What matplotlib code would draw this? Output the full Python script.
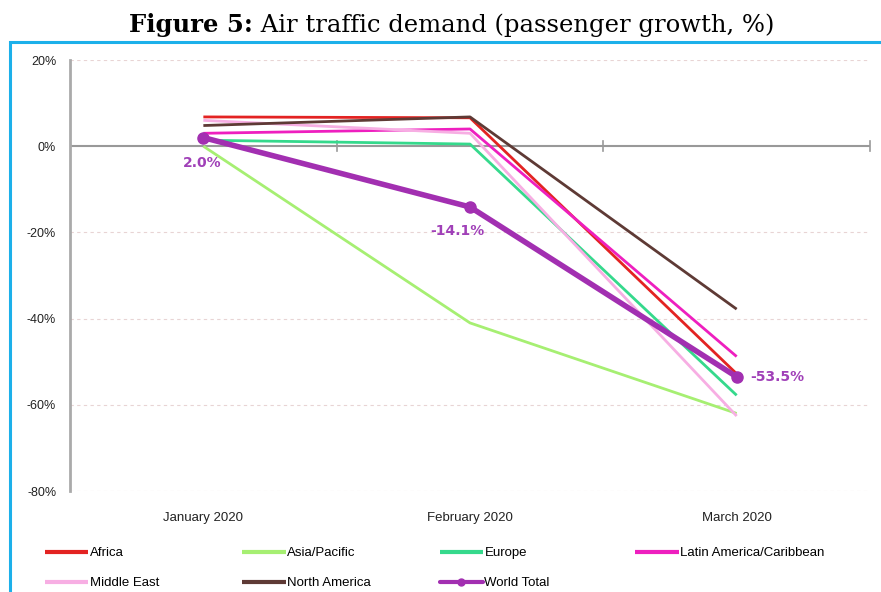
import matplotlib
matplotlib.use("Agg")
import matplotlib.pyplot as plt
from matplotlib import font_manager
from matplotlib.patches import Rectangle
from matplotlib.ticker import FuncFormatter

months = ["January 2020", "February 2020", "March 2020"]

africa = [6.8, 6.6, -52.8]
asia_pacific = [0.0, -41.0, -62.0]
europe = [1.4, 0.5, -57.8]
latin_america = [3.0, 4.0, -48.8]
middle_east = [6.0, 3.0, -62.6]
north_america = [4.8, 6.8, -37.8]
world_total = [2.0, -14.1, -53.5]

series = [
    ("Africa", africa, "#e32322"),
    ("Asia/Pacific", asia_pacific, "#a6ef72"),
    ("Europe", europe, "#35d98c"),
    ("Latin America/Caribbean", latin_america, "#ee1fbf"),
    ("Middle East", middle_east, "#f7aee3"),
    ("North America", north_america, "#5e3a35"),
]

names = {f.name for f in font_manager.fontManager.ttflist}
narrow = "Liberation Sans Narrow" if "Liberation Sans Narrow" in names else "Liberation Sans"

plt.rcParams["axes.unicode_minus"] = False


def main():
    fig = plt.figure(figsize=(8.81, 5.92), dpi=100)
    ax = fig.add_axes([0.0795, 0.1706, 0.908, 0.728])

    x = list(range(len(months)))
    handles = {}
    for name, vals, color in series:
        (h,) = ax.plot(x, vals, color=color, lw=2, solid_capstyle="butt", label=name)
        handles[name] = h
    (hw,) = ax.plot(x, world_total, color="#a22fb1", lw=4, marker="o", ms=8,
                    solid_capstyle="round", label="World Total")
    handles["World Total"] = hw

    # data labels for world total
    purple = "#a040b8"
    ax.annotate(f"{world_total[0]:.1f}%", (x[0], world_total[0]), xytext=(-1, -21),
                textcoords="offset points", ha="center", color=purple,
                fontsize=10, fontweight="bold", family="DejaVu Sans")
    ax.annotate(f"{world_total[1]:.1f}%", (x[1], world_total[1]), xytext=(-9, -20),
                textcoords="offset points", ha="center", color=purple,
                fontsize=10, fontweight="bold", family="DejaVu Sans")
    ax.annotate(f"{world_total[2]:.1f}%", (x[2], world_total[2]), xytext=(10, 0),
                textcoords="offset points", ha="left", va="center", color=purple,
                fontsize=10, fontweight="bold", family="DejaVu Sans")

    ax.set_xlim(-0.5, 2.5)
    ax.set_ylim(-80, 20)
    ax.set_yticks([20, 0, -20, -40, -60, -80])
    ax.yaxis.set_major_formatter(FuncFormatter(lambda v, p: f"{v:.0f}%"))
    for lbl in ax.get_yticklabels():
        lbl.set_family(narrow)
        lbl.set_fontsize(9)
    ax.tick_params(axis="y", length=0, pad=10, colors="#222222")

    ax.set_xticks(x)
    ax.set_xticklabels(months, family=narrow, fontsize=9.5)
    ax.tick_params(axis="x", length=0, pad=15, colors="#222222")

    for v in [20, -20, -40, -60, -80]:
        ax.axhline(v, color="#e8d4d4", lw=0.8, ls=(0, (3, 3)), zorder=0)
    ax.axhline(0, color="#999999", lw=1.5, zorder=0.5)
    for b in [0.5, 1.5, 2.5]:
        ax.plot([b, b], [-1.2, 1.2], color="#999999", lw=1.2, zorder=0.5, clip_on=False)

    for s in ["top", "right", "bottom"]:
        ax.spines[s].set_visible(False)
    ax.spines["left"].set_color("#aaaaaa")
    ax.spines["left"].set_linewidth(2)

    # legend, placed per column
    columns = [["Africa", "Middle East"], ["Asia/Pacific", "North America"],
               ["Europe", "World Total"], ["Latin America/Caribbean"]]
    col_x = [0.051, 0.275, 0.499, 0.721]
    for cx, names_col in zip(col_x, columns):
        leg = fig.legend([handles[n] for n in names_col], names_col,
                         loc="upper left", bbox_to_anchor=(cx, 0.076), frameon=False,
                         handlelength=3.3, handletextpad=0.1, labelspacing=1.35,
                         borderaxespad=0, borderpad=0,
                         prop={"family": narrow, "size": 9.5})
        for line in leg.get_lines():
            line.set_linewidth(3)
            line.set_markersize(5)

    fig.patches.append(Rectangle((10 / 881, -0.1), 1.1, 1 - 42 / 592 + 0.1,
                                 transform=fig.transFigure, fill=False,
                                 edgecolor="#1cb0ea", lw=2.2))

    # title: bold prefix + regular text, centred together
    r = fig.canvas.get_renderer()
    t1 = fig.text(0, 0.958, "Figure 5:", ha="left", va="center", fontsize=17.5,
                  family="DejaVu Serif", fontweight="bold")
    t2 = fig.text(0, 0.958, " Air traffic demand (passenger growth, %)", ha="left",
                  va="center", fontsize=17.5, family="DejaVu Serif")
    w1 = t1.get_window_extent(r).width / fig.bbox.width
    w2 = t2.get_window_extent(r).width / fig.bbox.width
    x0 = 0.513 - (w1 + w2) / 2
    t1.set_x(x0)
    t2.set_x(x0 + w1)

    fig.savefig("out.png", dpi=100)
    plt.close(fig)


if __name__ == "__main__":
    main()
